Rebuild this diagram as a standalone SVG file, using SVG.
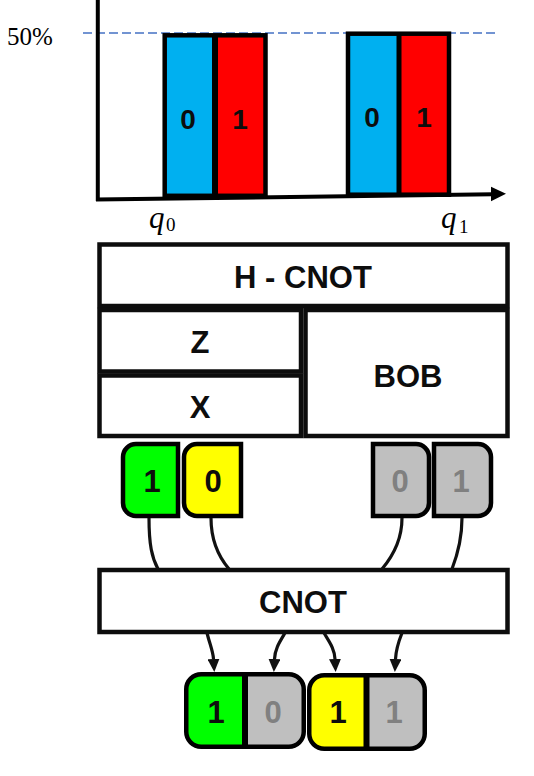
<svg xmlns="http://www.w3.org/2000/svg" width="534" height="776" viewBox="0 0 534 776">
<style>
.box{fill:#fff;stroke:#0d0d0d;stroke-width:4.5}
.lbl{font-family:"Liberation Sans",Arial,sans-serif;font-weight:bold;font-size:31px;fill:#0d0d0d;text-anchor:middle}
.dig{font-family:"Liberation Sans",Arial,sans-serif;font-weight:bold;font-size:28px;fill:#0d0d0d;text-anchor:middle}
.gt{fill:#808080}
.tile{stroke:#000;stroke-width:4.5}
.wire{fill:none;stroke:#111;stroke-width:3.2}
.serif{font-family:"Liberation Serif","Times New Roman",serif;fill:#000}
</style>
<defs>
<marker id="ah" markerUnits="userSpaceOnUse" viewBox="0 0 13 12" markerWidth="13" markerHeight="12" refX="0" refY="6" orient="auto">
<path d="M0,0 L13,6 L0,12 Z" fill="#111"/>
</marker>
</defs>

<g id="chart">
<line x1="83" y1="33" x2="497" y2="33" stroke="#4472C4" stroke-width="1.6" stroke-dasharray="9,4"/>
<text class="serif" x="7" y="45" font-size="25">50%</text>
<rect x="165" y="35.3" width="50" height="160" fill="#00B0F0"/>
<rect x="215" y="35.3" width="50" height="160" fill="#FF0000"/>
<rect x="164.7" y="35.3" width="100.8" height="160.5" fill="none" stroke="#000" stroke-width="4.5"/>
<line x1="215" y1="35" x2="215" y2="196" stroke="#000" stroke-width="6"/>
<text class="dig" x="188" y="129">0</text>
<text class="dig" x="240" y="129">1</text>
<rect x="348" y="33.7" width="51" height="161" fill="#00B0F0"/>
<rect x="399" y="33.7" width="50" height="161" fill="#FF0000"/>
<rect x="348" y="33.7" width="101" height="161" fill="none" stroke="#000" stroke-width="4.5"/>
<line x1="399" y1="33.5" x2="399" y2="195" stroke="#000" stroke-width="5"/>
<text class="dig" x="372" y="127">0</text>
<text class="dig" x="424" y="127">1</text>
<line x1="97.8" y1="0" x2="97.8" y2="201" stroke="#000" stroke-width="4"/>
<line x1="96" y1="199.5" x2="493" y2="194.3" stroke="#000" stroke-width="4"/>
<polygon points="506,193.8 491,186.8 491,201.2" fill="#000"/>
<text class="serif" x="149" y="228" font-size="31" font-style="italic">q</text>
<text class="serif" x="166" y="231" font-size="19">0</text>
<text class="serif" x="441" y="228" font-size="31" font-style="italic">q</text>
<text class="serif" x="459" y="232.5" font-size="19">1</text>
</g>

<g id="h-cnot">
<rect class="box" x="99.5" y="244.5" width="408" height="61.5"/>
<text class="lbl" x="303" y="288">H - CNOT</text>
</g>
<g id="z">
<rect class="box" x="99.5" y="310" width="201.5" height="61.5"/>
<text class="lbl" x="200" y="353">Z</text>
</g>
<g id="x">
<rect class="box" x="99.5" y="375.5" width="201.5" height="60.5"/>
<text class="lbl" x="200" y="418">X</text>
</g>
<g id="bob">
<rect class="box" x="305.5" y="310" width="202" height="126"/>
<text class="lbl" x="408" y="387">BOB</text>
</g>

<g id="tile-green">
<path class="tile" fill="#00FF00" d="M178,444 H136 A13,13 0 0 0 123,457 V503 A13,13 0 0 0 136,516 H178 Z"/>
<text class="lbl" x="152" y="492">1</text>
</g>
<g id="tile-yellow">
<path class="tile" fill="#FFFF00" d="M241,444 H197 A13,13 0 0 0 184,457 V503 A13,13 0 0 0 197,516 H241 Z"/>
<text class="lbl" x="213" y="492">0</text>
</g>
<g id="tile-grey0">
<path class="tile" fill="#BFBFBF" d="M373,444 H416 A13,13 0 0 1 429,457 V503 A13,13 0 0 1 416,516 H373 Z"/>
<text class="lbl gt" x="400" y="492">0</text>
</g>
<g id="tile-grey1">
<path class="tile" fill="#BFBFBF" d="M434,444 H478 A13,13 0 0 1 491,457 V503 A13,13 0 0 1 478,516 H434 Z"/>
<text class="lbl gt" x="461" y="492">1</text>
</g>

<g id="cnot">
<rect class="box" x="99.5" y="570" width="408" height="62" stroke-width="5"/>
<text class="lbl" x="303" y="613">CNOT</text>
</g>

<g id="result-1">
<path fill="#00FF00" d="M245,674.25 H201.25 A15,15 0 0 0 186.25,689.25 V731.75 A15,15 0 0 0 201.25,746.75 H245 Z"/>
<path fill="#BFBFBF" d="M245,674.25 H288.75 A15,15 0 0 1 303.75,689.25 V731.75 A15,15 0 0 1 288.75,746.75 H245 Z"/>
<rect x="186.25" y="674.25" width="117.5" height="72.5" rx="15" fill="none" stroke="#000" stroke-width="4.5"/>
<line x1="245" y1="674" x2="245" y2="747" stroke="#000" stroke-width="6"/>
<text class="lbl" x="216" y="723">1</text>
<text class="lbl gt" x="273" y="723">0</text>
</g>
<g id="result-2">
<path fill="#FFFF00" d="M366.5,675.25 H324.25 A15,15 0 0 0 309.25,690.25 V733.75 A15,15 0 0 0 324.25,748.75 H366.5 Z"/>
<path fill="#BFBFBF" d="M366.5,675.25 H409.75 A15,15 0 0 1 424.75,690.25 V733.75 A15,15 0 0 1 409.75,748.75 H366.5 Z"/>
<rect x="309.25" y="675.25" width="115.5" height="73.5" rx="15" fill="none" stroke="#000" stroke-width="4.5"/>
<line x1="366.5" y1="675" x2="366.5" y2="749" stroke="#000" stroke-width="6"/>
<text class="lbl" x="338" y="723">1</text>
<text class="lbl gt" x="394" y="723">1</text>
</g>

<g id="connectors">
<path class="wire" d="M149,518 C149,545 152,558 158,569"/>
<path class="wire" d="M211,518 C211,540 218,556 229,569"/>
<path class="wire" d="M402,518 C402,540 393,556 382,569"/>
<path class="wire" d="M462,518 C462,540 457,556 452,569"/>
<path class="wire" d="M207,633 C210,645 213,651 213.5,659" marker-end="url(#ah)"/>
<path class="wire" d="M285,633 C279,643 275,649 274.5,659" marker-end="url(#ah)"/>
<path class="wire" d="M324,633 C330,643 334.5,649 335,659" marker-end="url(#ah)"/>
<path class="wire" d="M402,633 C398,643 396,649 395.5,659" marker-end="url(#ah)"/>
</g>
</svg>
